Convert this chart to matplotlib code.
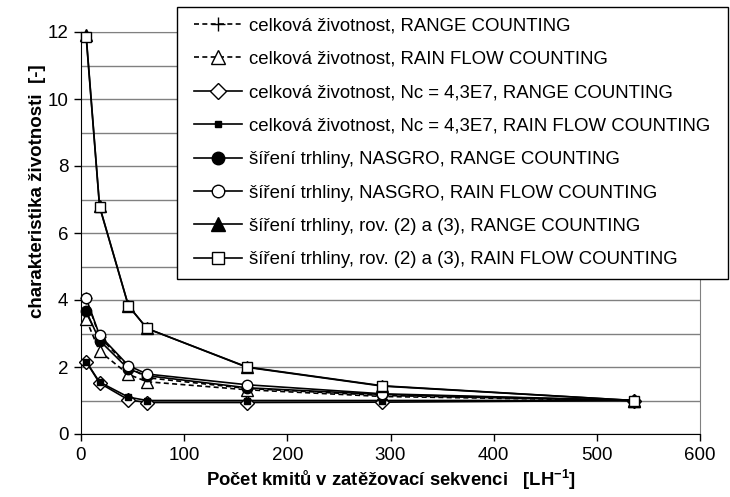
import matplotlib
matplotlib.use("Agg")
import matplotlib.pyplot as plt
from matplotlib.patches import Rectangle
from matplotlib.ticker import MultipleLocator

plt.rcParams["font.family"] = ["Liberation Sans", "DejaVu Sans"]
plt.rcParams["mathtext.fontset"] = "custom"
plt.rcParams["mathtext.rm"] = "Liberation Sans:bold"
plt.rcParams["mathtext.bf"] = "Liberation Sans:bold"

# počet kmitů v zatěžovací sekvenci
x = [5, 18, 46, 64, 161, 292, 536]

# hodnoty jednotlivých řad
celk_range = [4.05, 2.9, 2.0, 1.68, 1.36, 1.15, 1.0]
celk_rain = [3.42, 2.47, 1.78, 1.56, 1.32, 1.12, 1.0]
celk_nc_range = [2.16, 1.52, 1.02, 0.94, 0.94, 0.95, 1.0]
celk_nc_rain = [2.16, 1.55, 1.1, 1.0, 1.0, 1.0, 1.0]
nasgro_range = [3.67, 2.79, 1.94, 1.74, 1.38, 1.18, 1.0]
nasgro_rain = [4.05, 2.95, 2.04, 1.79, 1.47, 1.2, 1.0]
rov_range = [11.9, 6.8, 3.83, 3.15, 2.0, 1.44, 1.0]
rov_rain = [11.85, 6.78, 3.82, 3.15, 1.99, 1.43, 1.0]

labels = [
    "celková životnost, RANGE COUNTING",
    "celková životnost, RAIN FLOW COUNTING",
    "celková životnost, Nc = 4,3E7, RANGE COUNTING",
    "celková životnost, Nc = 4,3E7, RAIN FLOW COUNTING",
    "šíření trhliny, NASGRO, RANGE COUNTING",
    "šíření trhliny, NASGRO, RAIN FLOW COUNTING",
    "šíření trhliny, rov. (2) a (3), RANGE COUNTING",
    "šíření trhliny, rov. (2) a (3), RAIN FLOW COUNTING",
]
series = [celk_range, celk_rain, celk_nc_range, celk_nc_rain,
          nasgro_range, nasgro_rain, rov_range, rov_rain]

# (styl čáry, marker, výplň, velikost)
styles = [
    ((0, (3, 2)), "+", "black", 8),
    ((0, (3, 2)), "^", "white", 8),
    ("-", "D", "white", 7),
    ("-", "s", "black", 4),
    ("-", "o", "black", 7.5),
    ("-", "o", "white", 7.5),
    ("-", "^", "black", 8),
    ("-", "s", "white", 7.5),
]

fig = plt.figure(figsize=(7.3, 4.97), dpi=100)
ax = fig.add_axes([81 / 730, 1 - 434 / 497, 619 / 730, 402 / 497])

handles = []
for y, lab, (ls, mk, fc, ms) in zip(series, labels, styles):
    h, = ax.plot(x, y, linestyle=ls, color="black", linewidth=1.2,
                 marker=mk, markersize=ms, markerfacecolor=fc,
                 markeredgecolor="black", markeredgewidth=1.0,
                 label=lab, clip_on=False, zorder=3)
    handles.append(h)

ax.set_xlim(0, 600)
ax.set_ylim(0, 12)
ax.xaxis.set_major_locator(MultipleLocator(100))
ax.yaxis.set_major_locator(MultipleLocator(2))
ax.yaxis.set_minor_locator(MultipleLocator(1))
ax.grid(True, which="both", axis="y", color="#808080", linewidth=1.0, zorder=0)
ax.set_axisbelow(True)
ax.tick_params(axis="both", which="major", direction="out", length=5,
               width=1, labelsize=13.5, color="black", pad=4)
ax.tick_params(axis="y", which="minor", length=0)
for s in ["top", "right"]:
    ax.spines[s].set_color("#808080")
for s in ["left", "bottom"]:
    ax.spines[s].set_color("black")

ax.set_xlabel(r"Počet kmitů v zatěžovací sekvenci   [LH$^{-1}$]",
              fontsize=13.3, fontweight="bold")
ax.xaxis.label.set_va("center")
ax.xaxis.set_label_coords(0.501, -0.114)
ax.set_ylabel("charakteristika životnosti  [-]", fontsize=13.5,
              fontweight="bold")
ax.yaxis.label.set_va("center")
ax.yaxis.label.set_ha("center")
ax.yaxis.set_label_coords(-0.071, 0.604)

# rámeček legendy
fig.add_artist(Rectangle((177 / 730, 1 - 279 / 497), 551 / 730, 272 / 497,
                         transform=fig.transFigure, facecolor="white",
                         edgecolor="black", linewidth=1.0, zorder=4))

leg = fig.legend(handles=handles, loc="upper left",
                 bbox_to_anchor=(194 / 730, 1 - 17.5 / 497),
                 fontsize=13.4, frameon=False, handlelength=2.6,
                 handletextpad=0.35, labelspacing=0.88, borderpad=0,
                 borderaxespad=0, markerscale=1.2)
leg.set_zorder(5)

fig.savefig("out.png", dpi=100)
